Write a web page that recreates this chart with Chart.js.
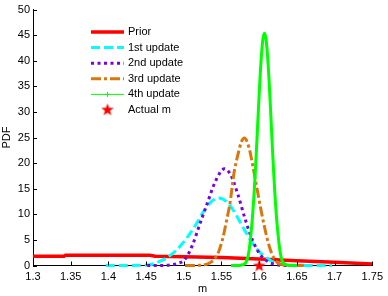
<!DOCTYPE html>
<html>
<head>
<meta charset="utf-8">
<script src="https://cdn.jsdelivr.net/npm/chart.js@4.4.0/dist/chart.umd.min.js"></script>
<style>
  html, body { margin: 0; padding: 0; background: #fff; }
  canvas { display: block; }
</style>
</head>
<body>
<canvas id="pdfChart" width="388" height="296"></canvas>
<script>
const xTicks = [1.3, 1.35, 1.4, 1.45, 1.5, 1.55, 1.6, 1.65, 1.7, 1.75];
const yTicks = [0, 5, 10, 15, 20, 25, 30, 35, 40, 45, 50];
const seriesNames = ['Prior', '1st update', '2nd update', '3rd update', '4th update', 'Actual m'];

const priorM   = [1.3, 1.341, 1.343, 1.455, 1.462, 1.5, 1.55, 1.6, 1.65, 1.7, 1.75];
const priorPdf = [1.8, 1.8, 2.0, 2.0, 1.8, 1.7, 1.55, 1.25, 0.95, 0.65, 0.3];

const upd1M   = [1.3965, 1.4415, 1.4565, 1.4665, 1.4765, 1.4865, 1.4965, 1.5065, 1.5165, 1.5265, 1.5365, 1.5465,
                 1.5565, 1.5665, 1.5765, 1.5865, 1.5965, 1.6065, 1.6165, 1.6265, 1.6365, 1.6515, 1.6965];
const upd1Pdf = [0, 0.05, 0.2, 0.7, 1.4, 2.5, 4.0, 5.9, 8.1, 10.6, 12.5, 13.2,
                 12.5, 10.6, 8.0, 5.4, 3.3, 1.8, 0.87, 0.38, 0.15, 0.04, 0];

const upd2M   = [1.4515, 1.4715, 1.4815, 1.4915, 1.5015, 1.5115, 1.5215, 1.5315, 1.5415, 1.554,
                 1.5615, 1.5715, 1.5815, 1.5915, 1.6015, 1.6115, 1.6215, 1.6315, 1.6415];
const upd2Pdf = [0, 0.02, 0.1, 0.4, 1.2, 4.0, 8.2, 12.3, 16.3, 18.9,
                 17.9, 14.0, 9.0, 4.8, 2.1, 0.75, 0.22, 0.03, 0];

const upd3M   = [1.5015, 1.5215, 1.5315, 1.5365, 1.5415, 1.5465, 1.5515, 1.5565, 1.5615, 1.5665, 1.5715, 1.5765,
                 1.5805, 1.5865, 1.5915, 1.5965, 1.6015, 1.6065, 1.6115, 1.6165, 1.6215, 1.6265, 1.6365, 1.6615];
const upd3Pdf = [0, 0.05, 0.3, 0.7, 1.4, 2.8, 5.2, 8.6, 12.4, 18.0, 21.5, 24.2,
                 24.9, 23.0, 19.5, 15.5, 11.5, 7.9, 4.7, 2.4, 1.0, 0.35, 0.05, 0];

const upd4M   = [1.5625, 1.573, 1.579, 1.581, 1.583, 1.585, 1.587, 1.589, 1.591, 1.593, 1.595, 1.597, 1.599,
                 1.601, 1.603, 1.605, 1.607, 1.609, 1.611, 1.613, 1.615, 1.617, 1.619, 1.621, 1.623,
                 1.625, 1.627, 1.629, 1.631, 1.633, 1.635, 1.641, 1.6505];
const upd4Pdf = [0, 0.02, 0.15, 0.35, 0.8, 1.7, 3.4, 6.1, 9.3, 13.5, 18.7, 24.5, 30.6,
                 36.4, 41.1, 44.3, 45.4, 44.3, 41.1, 36.4, 30.6, 24.5, 18.7, 13.5, 9.3,
                 6.1, 3.4, 1.7, 0.8, 0.35, 0.15, 0.02, 0];

const actualM   = [1.6];
const actualPdf = [0];

function toPoints(xs, ys) {
  return xs.map((x, i) => ({ x: x, y: ys[i] }));
}

// filled red star for the "Actual m" marker
const star = document.createElement('canvas');
star.width = 14;
star.height = 14;
const sctx = star.getContext('2d');
sctx.fillStyle = '#ff0000';
sctx.beginPath();
for (let i = 0; i < 10; i++) {
  const r = i % 2 ? 2.7 : 6.6;
  const a = -Math.PI / 2 + i * Math.PI / 5;
  sctx.lineTo(7 + r * Math.cos(a), 7.5 + r * Math.sin(a));
}
sctx.closePath();
sctx.fill();

const FONT = '"Liberation Sans", Arial, sans-serif';
const AXIS = '#000';

// MATLAB style ticks point into the plot
const innerTicks = {
  id: 'innerTicks',
  afterDraw(chart) {
    const { ctx, chartArea, scales } = chart;
    ctx.save();
    ctx.strokeStyle = AXIS;
    ctx.lineWidth = 1;
    ctx.beginPath();
    xTicks.forEach(v => {
      const px = Math.round(scales.x.getPixelForValue(v)) + 0.5;
      ctx.moveTo(px, chartArea.bottom);
      ctx.lineTo(px, chartArea.bottom - 4);
    });
    yTicks.forEach(v => {
      const py = Math.round(scales.y.getPixelForValue(v)) + 0.5;
      ctx.moveTo(chartArea.left, py);
      ctx.lineTo(chartArea.left + 4, py);
    });
    ctx.stroke();
    ctx.restore();
  }
};

const legendPlugin = {
  id: 'matlabLegend',
  afterDraw(chart) {
    const ctx = chart.ctx;
    ctx.save();
    ctx.font = '11px ' + FONT;
    ctx.textBaseline = 'middle';
    chart.data.datasets.forEach((ds, i) => {
      const y = 32 + i * 15.6;
      if (ds.showLine === false) {
        ctx.drawImage(ds.pointStyle, 107.5 - 7, y - 7.5);
      } else {
        ctx.strokeStyle = ds.borderColor;
        ctx.lineWidth = ds.legendWidth || ds.borderWidth;
        ctx.setLineDash(ds.borderDash || []);
        ctx.beginPath();
        ctx.moveTo(91, y);
        ctx.lineTo(124, y);
        ctx.stroke();
        if (ds.legendMarker) {
          ctx.setLineDash([]);
          ctx.beginPath();
          ctx.moveTo(105, y); ctx.lineTo(110, y);
          ctx.moveTo(107.5, y - 2.5); ctx.lineTo(107.5, y + 2.5);
          ctx.stroke();
        }
      }
      ctx.fillStyle = '#000';
      ctx.fillText(ds.label, 128, y);
    });
    ctx.restore();
  }
};

const ctx = document.getElementById('pdfChart').getContext('2d');
const pdfChart = new Chart(ctx, {
  type: 'line',
  data: {
    datasets: [
      {
        label: seriesNames[0],
        data: toPoints(priorM, priorPdf),
        borderColor: '#ff0000',
        borderWidth: 3.5,
        order: 6
      },
      {
        label: seriesNames[1],
        data: toPoints(upd1M, upd1Pdf),
        borderColor: '#00ffff',
        borderWidth: 3,
        borderDash: [9, 4],
        cubicInterpolationMode: 'monotone',
        order: 5
      },
      {
        label: seriesNames[2],
        data: toPoints(upd2M, upd2Pdf),
        borderColor: '#7a00e6',
        borderWidth: 3,
        borderDash: [3, 3.5],
        cubicInterpolationMode: 'monotone',
        order: 4
      },
      {
        label: seriesNames[3],
        data: toPoints(upd3M, upd3Pdf),
        borderColor: '#d9770d',
        borderWidth: 3,
        borderDash: [10, 3, 3, 3],
        cubicInterpolationMode: 'monotone',
        order: 3
      },
      {
        label: seriesNames[4],
        data: toPoints(upd4M, upd4Pdf),
        borderColor: '#00ff00',
        borderWidth: 3,
        legendWidth: 1,
        legendMarker: true,
        cubicInterpolationMode: 'monotone',
        order: 2
      },
      {
        label: seriesNames[5],
        data: toPoints(actualM, actualPdf),
        showLine: false,
        pointStyle: star,
        pointRadius: 7,
        order: 1
      }
    ]
  },
  options: {
    responsive: false,
    animation: false,
    layout: { padding: { top: 6, right: 12.5, left: 0, bottom: 0 } },
    elements: {
      point: { radius: 0, hoverRadius: 0 },
      line: { fill: false }
    },
    datasets: { line: { clip: false } },
    scales: {
      x: {
        type: 'linear',
        min: 1.3,
        max: 1.75,
        afterBuildTicks: scale => { scale.ticks = xTicks.map(v => ({ value: v })); },
        afterFit: scale => { scale.height = 30.5; },
        ticks: {
          autoSkip: false,
          maxRotation: 0,
          padding: 5,
          color: '#000',
          font: { family: FONT, size: 11 },
          callback: v => String(v)
        },
        grid: { display: true, drawOnChartArea: false, drawTicks: false },
        border: { display: true, color: AXIS, width: 1 },
        title: {
          display: true,
          text: 'm',
          color: '#000',
          padding: 0,
          font: { family: FONT, size: 11 }
        }
      },
      y: {
        min: 0,
        max: 50,
        afterBuildTicks: scale => { scale.ticks = yTicks.map(v => ({ value: v })); },
        afterFit: scale => { scale.width = 33; },
        ticks: {
          autoSkip: false,
          padding: 3,
          color: '#000',
          font: { family: FONT, size: 11 },
          callback: v => String(v)
        },
        grid: { display: true, drawOnChartArea: false, drawTicks: false },
        border: { display: true, color: AXIS, width: 1 },
        title: {
          display: true,
          text: 'PDF',
          color: '#000',
          padding: 0,
          font: { family: FONT, size: 11 }
        }
      }
    },
    plugins: {
      legend: { display: false },
      tooltip: { enabled: false }
    }
  },
  plugins: [innerTicks, legendPlugin]
});
</script>
</body>
</html>
